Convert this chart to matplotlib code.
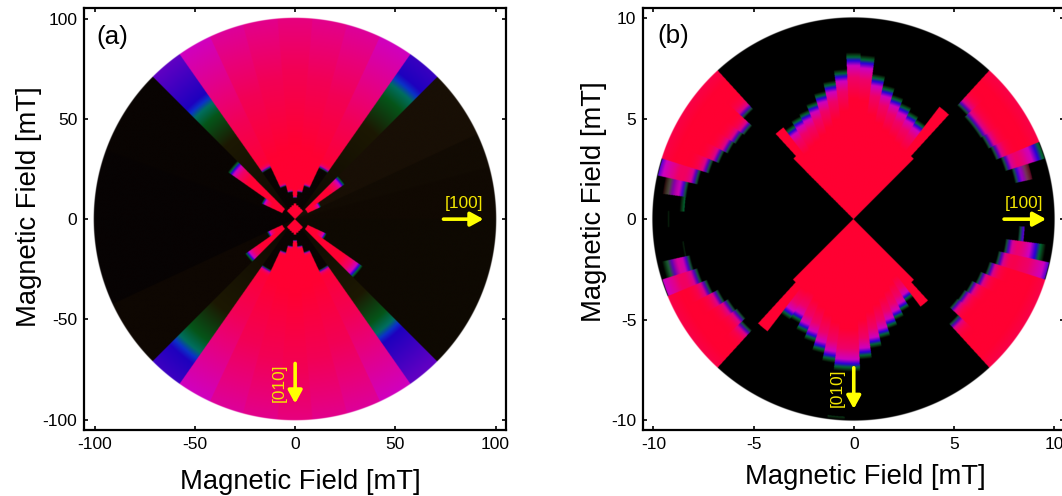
# -*- coding: utf-8 -*-
import numpy as np
import matplotlib
matplotlib.use('Agg')
import matplotlib.pyplot as plt

plt.rcParams['font.family'] = ['Liberation Sans', 'DejaVu Sans']
plt.rcParams['axes.unicode_minus'] = False

##################################
# colour profiles, u = r / edge radius
fall_u = [0.0, 0.72, 0.85, 0.92, 0.95, 0.972, 0.99, 1.0]
fall_rgb = np.array([(255, 0, 50), (255, 0, 50), (238, 0, 105), (205, 0, 190),
                     (40, 0, 215), (0, 105, 50), (10, 40, 15), (0, 0, 0)])
wedge_u = [0.0, 0.25, 0.5, 0.65, 0.91, 1.0]
wedge_rgb = np.array([(255, 0, 50), (255, 0, 50), (242, 0, 85), (232, 0, 122),
                      (208, 0, 190), (205, 0, 190)])
rise_u = [0.0, 0.68, 0.88, 0.96, 1.0, 1.04, 1.35]
rise_rgb = np.array([(12, 6, 2), (28, 24, 2), (5, 85, 25), (0, 110, 95),
                     (10, 50, 200), (30, 0, 190), (95, 0, 195)])
rim_u = [0.0, 0.012, 0.03, 0.05, 0.09, 0.16]
rim_rgb = np.array([(0, 0, 0), (0, 90, 50), (40, 0, 215), (200, 0, 180),
                    (238, 0, 105), (255, 0, 50)])

##################################
# panel (a), 100 mT scan, angles in degrees
a_dark_t0 = [0, 15, 25, 160, 205, 315]
a_dark_t1 = [15, 25, 45, 205, 225, 360]
a_dark_rgb = [(16, 9, 2), (18, 11, 3), (24, 15, 5), (7, 3, 3), (14, 7, 2), (14, 9, 2)]

a_rise_t0 = [45, 125, 225, 305]
a_rise_edge = [86, 74, 85, 73]

a_top_t0 = [55, 65, 75, 85, 95, 105, 115]
a_bot_t0 = [235, 245, 255, 265, 275, 285, 295]
a_wedge_rin = [28, 17, 13.5, 10.5, 13.5, 17, 28]
a_wedge_edge = [110, 130, 140, 150, 140, 130, 110]

a_arm_t0 = [35, 25, 135, 145, 215, 205, 315, 325]
a_arm_edge = [30.5, 14.5, 41, 18.5, 30.5, 15.5, 41.5, 17.5]

a_diamond_t0 = [45, 55, 65, 75, 85, 95, 105, 115, 125,
                225, 235, 245, 255, 265, 275, 285, 295, 305]
a_diamond_r = [5.7, 5.9, 6.3, 6.9, 7.8, 6.9, 6.3, 5.9, 5.7,
               5.7, 5.9, 6.3, 6.9, 7.8, 6.9, 6.3, 5.9, 5.7]

##################################
# panel (b), 10 mT scan, sectors are 5 degrees wide
b_top_theta = [55, 60, 65, 70, 75, 80, 85, 90, 95, 100, 105, 110, 115, 120, 125]
b_top_edge = [5.9, 6.05, 6.26, 6.5, 6.85, 7.3, 8.18, 8.3, 7.48, 6.97, 6.54, 6.17, 5.9, 5.78, 5.6]
b_bot_theta = [235, 240, 245, 250, 255, 260, 265, 270, 275, 280, 285, 290, 295, 300, 305]
b_bot_edge = [5.95, 5.86, 6.2, 6.46, 6.86, 7.24, 7.6, 7.6, 7.0, 6.5, 6.1, 5.73, 5.45, 5.2, 4.9]

b_arm_theta = [50, 130, 230, 310]
b_arm_r = [7.05, 5.75, 7.05, 5.5]
b_diag_t0 = [45, 132.5, 225, 312.5]
b_diag_r = [4.25, 4.25, 4.27, 4.27]

b_side_theta = [25, 30, 35, 40, 45, 135, 140, 145, 150, 155, 160,
                205, 210, 215, 220, 225, 315, 320, 325, 330, 335, 340]
b_side_rin = [7.68, 7.57, 7.5, 7.5, 7.65, 7.4, 6.85, 6.95, 7.05, 7.25, 7.55,
              7.9, 7.6, 7.4, 7.3, 7.5, 7.05, 6.5, 6.55, 6.65, 6.85, 7.1]

b_stub_theta = [345, 350, 355, 20, 15, 165, 170, 195, 200]
b_stub_rin = [7.4, 7.65, 8.25, 7.93, 8.25, 7.95, 8.4, 8.35, 8.15]
b_stub_rout = [10, 9.7, 8.55, 10, 9.15, 10, 9.6, 9.8, 10]
b_stub_edge = [10.6, 9.7, 9.3, 10.2, 9.15, 10.6, 9.6, 9.8, 10.8]

b_arc_theta = [175, 180, 190, 265]
b_arc_rin = [8.45, 9.2, 8.55, 9.85]
b_arc_rout = [8.7, 9.3, 8.65, 10.0]

x_ticks_a = [-100, -50, 0, 50, 100]
x_ticks_b = [-10, -5, 0, 5, 10]


##################################
# polar grid and painting of one sector
def make_grid(rmax, n=1300):
    v = np.linspace(-rmax, rmax, n)
    x, y = np.meshgrid(v, v)
    r = np.hypot(x, y)
    theta = np.degrees(np.arctan2(y, x)) % 360
    return r, theta


def profile(u, stops, rgb):
    return np.stack([np.interp(u, stops, rgb[:, k]) for k in range(3)], axis=-1)


def paint(img, r, theta, t0, t1, r0, r1, colours=None, edge=20.0, stops=fall_u, rgb=fall_rgb, rim=False):
    m = (theta >= t0) & (theta < t1) & (r >= r0) & (r < r1)
    if colours is not None:
        img[m] = colours
        return
    c = profile(r[m] / edge, stops, rgb)
    if rim:
        v = r[m] / r0 - 1
        mix = np.clip(v / 0.16, 0, 1)[:, None]
        c = mix * c + (1 - mix) * profile(v, rim_u, rim_rgb)
    img[m] = c


def to_rgba(img, r, rmax, disc):
    # soft edge of the disc, white outside
    px = 2 * rmax / img.shape[0]
    alpha = np.clip((disc - r) / (2 * px) + 0.5, 0, 1)
    return np.dstack([img / 255.0, alpha])


def panel_a():
    rmax = 105.2
    r, theta = make_grid(rmax)
    img = np.zeros(r.shape + (3,))
    img[:] = (9, 4, 2)
    for t0, t1, c in zip(a_dark_t0, a_dark_t1, a_dark_rgb):
        paint(img, r, theta, t0, t1, 0, 200, colours=c)
    for t0, e in zip(a_rise_t0, a_rise_edge):
        paint(img, r, theta, t0, t0 + 10, 0, 200, edge=e, stops=rise_u, rgb=rise_rgb)
    for t0s in (a_top_t0, a_bot_t0):
        for t0, rin, e in zip(t0s, a_wedge_rin, a_wedge_edge):
            paint(img, r, theta, t0, t0 + 10, rin, 200, edge=e, stops=wedge_u, rgb=wedge_rgb, rim=True)
    for t0, e in zip(a_arm_t0, a_arm_edge):
        paint(img, r, theta, t0, t0 + 10, 7, e, edge=e)
    for t0, rd in zip(a_diamond_t0, a_diamond_r):
        paint(img, r, theta, t0, t0 + 10, 0, rd)
    return to_rgba(img, r, rmax, 100.4), rmax


def panel_b():
    rmax = 10.5
    r, theta = make_grid(rmax)
    img = np.zeros(r.shape + (3,))
    for th, e in zip(b_top_theta + b_bot_theta, b_top_edge + b_bot_edge):
        paint(img, r, theta, th - 2.5, th + 2.5, 0, e, edge=e)
    for th, rd in zip(b_arm_theta, b_arm_r):
        paint(img, r, theta, th - 2.5, th + 2.5, 0, rd)
    for t0, rd in zip(b_diag_t0, b_diag_r):
        paint(img, r, theta, t0, t0 + 2.5, 0, rd)
    for th, rin in zip(b_side_theta, b_side_rin):
        paint(img, r, theta, th - 2.5, th + 2.5, rin, 20, edge=13.0, rim=True)
    for th, rin, ro, e in zip(b_stub_theta, b_stub_rin, b_stub_rout, b_stub_edge):
        paint(img, r, theta, th - 2.5, th + 2.5, rin, ro, edge=e, rim=True)
    for th, rin, ro in zip(b_arc_theta, b_arc_rin, b_arc_rout):
        paint(img, r, theta, th - 2.5, th + 2.5, rin, ro, edge=ro)
    return to_rgba(img, r, rmax, 10.04), rmax


def style_axes(ax, ticks, lim):
    ax.set_xlim(-lim, lim)
    ax.set_ylim(-lim, lim)
    ax.set_xticks(ticks)
    ax.set_yticks(ticks)
    ax.tick_params(direction='in', length=3, width=1.2, top=True, right=True, labelsize=12.5, pad=5)
    for s in ax.spines.values():
        s.set_linewidth(1.6)
    ax.set_xlabel('Magnetic Field [mT]', fontsize=19.7)
    ax.set_ylabel('Magnetic Field [mT]', fontsize=19.7)


def yellow_arrow(ax, start, end):
    ax.annotate('', xy=end, xytext=start,
                arrowprops=dict(arrowstyle='-|>,head_length=0.55,head_width=0.3', color='#ffff00',
                                lw=2.6, shrinkA=0, shrinkB=0, mutation_scale=14))


fig = plt.figure(figsize=(10.62, 4.96), dpi=100)
ax1 = fig.add_axes([84.3 / 1062, 66 / 496, 421.7 / 1062, 421.7 / 496])
ax2 = fig.add_axes([643.3 / 1062, 66 / 496, 420.9 / 1062, 421.7 / 496])

# (a)
rgba, lim = panel_a()
ax1.imshow(rgba, extent=[-lim, lim, -lim, lim], origin='lower', interpolation='bilinear', aspect='auto')
style_axes(ax1, x_ticks_a, lim)
ax1.xaxis.set_label_coords(0.5115, -0.093)
ax1.yaxis.set_label_coords(-0.10, 0.53)
ax1.text(-99, 91, '(a)', fontsize=18.8, ha='left', va='center')
yellow_arrow(ax1, (74, 0), (94, 0))
ax1.text(84, 8, '[100]', color='#f2e600', fontsize=12.4, ha='center', va='center')
yellow_arrow(ax1, (0, -72), (0, -92))
ax1.text(-8, -81.5, '[010]', color='#f2e600', fontsize=12.4, rotation=90, ha='center', va='center')

# (b)
rgba, lim = panel_b()
ax2.imshow(rgba, extent=[-lim, lim, -lim, lim], origin='lower', interpolation='bilinear', aspect='auto')
style_axes(ax2, x_ticks_b, lim)
ax2.xaxis.set_label_coords(0.5, -0.08)
ax2.xaxis.label.set_x(0.5285)
ax2.yaxis.set_label_coords(-0.0865, 0.542)
ax2.text(-9.8, 9.1, '(b)', fontsize=18.8, ha='left', va='center')
yellow_arrow(ax2, (7.5, 0), (9.6, 0))
ax2.text(8.5, 0.8, '[100]', color='#f2e600', fontsize=12.4, ha='center', va='center')
yellow_arrow(ax2, (0, -7.4), (0, -9.45))
ax2.text(-0.8, -8.4, '[010]', color='#f2e600', fontsize=12.4, rotation=90, ha='center', va='center')

plt.savefig('out.png')
